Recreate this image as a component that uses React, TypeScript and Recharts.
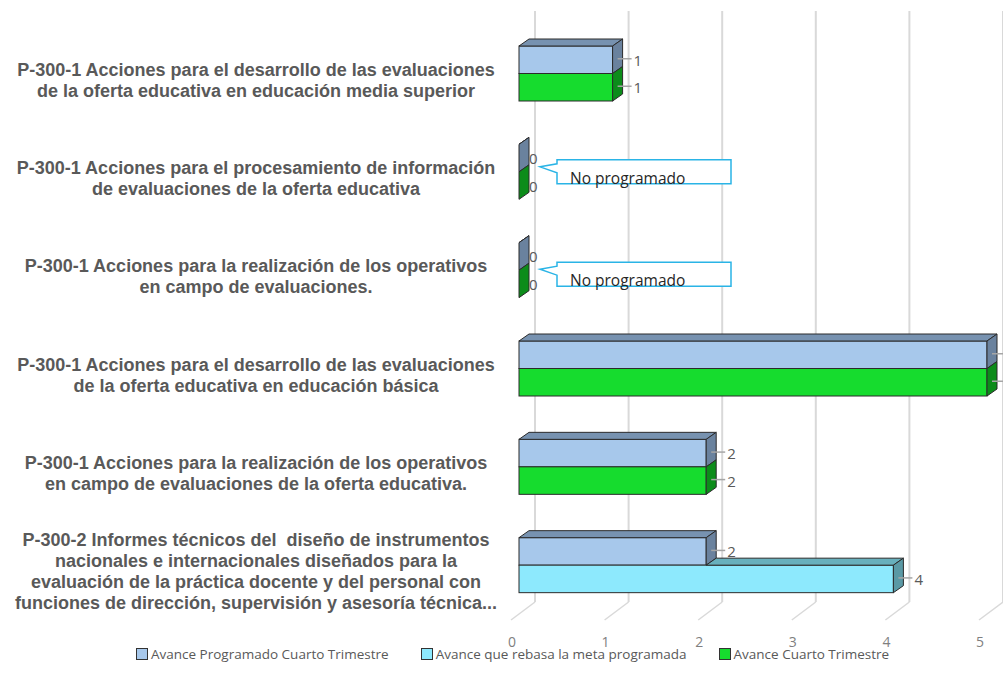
import React from 'react';
import {
  BarChart,
  Bar,
  XAxis,
  YAxis,
  CartesianGrid,
  Legend,
  LabelList,
} from 'recharts';

const categories = [
  'P-300-1 Acciones para el desarrollo de las evaluaciones\nde la oferta educativa en educación media superior',
  'P-300-1 Acciones para el procesamiento de información\nde evaluaciones de la oferta educativa',
  'P-300-1 Acciones para la realización de los operativos\nen campo de evaluaciones.',
  'P-300-1 Acciones para el desarrollo de las evaluaciones\nde la oferta educativa en educación básica',
  'P-300-1 Acciones para la realización de los operativos\nen campo de evaluaciones de la oferta educativa.',
  'P-300-2 Informes técnicos del  diseño de instrumentos\nnacionales e internacionales diseñados para la\nevaluación de la práctica docente y del personal con\nfunciones de dirección, supervisión y asesoría técnica...',
];
const programado = [1, 0, 0, 5, 2, 2];
const avanceCuarto = [1, 0, 0, 5, 2, null];
const rebasaMeta = [null, null, null, null, null, 4];
const notas = ['', 'No programado', 'No programado', '', '', ''];
const xTicks = [0, 1, 2, 3, 4, 5];

const legendItems = [
  { name: 'Avance Programado Cuarto Trimestre', color: '#a7c8eb' },
  { name: 'Avance que rebasa la meta programada', color: '#8de9fd' },
  { name: 'Avance Cuarto Trimestre', color: '#16dc2e' },
];

const data = categories.map((cat, i) => ({
  cat,
  programado: programado[i],
  segundo: avanceCuarto[i] ?? rebasaMeta[i],
  tipo: avanceCuarto[i] != null ? 'avance' : 'rebasa',
  nota: notas[i],
}));

const palette: Record<string, { front: string; top: string; side: string }> = {
  programado: { front: '#a7c8eb', top: '#7792b0', side: '#6a829e' },
  avance: { front: '#16dc2e', top: '#0f9e22', side: '#0c8c1a' },
  rebasa: { front: '#8de9fd', top: '#68b0bd', side: '#5a99a5' },
};

const DX = 10;
const DY = 7;
const EDGE = '#2b2b2b';

const Bar3D = (props: any) => {
  const { x, y, width, height, payload, dataKey } = props;
  const isProg = dataKey === 'programado';
  const c = palette[isProg ? 'programado' : payload.tipo];
  const w = Math.max(0, width);
  let top = null;
  if (isProg) {
    top = `${x},${y} ${x + DX},${y - DY} ${x + w + DX},${y - DY} ${x + w},${y}`;
  } else if (payload.programado < payload.segundo) {
    const xp = x + (w * payload.programado) / payload.segundo;
    top = `${xp},${y} ${xp + DX},${y - DY} ${x + w + DX},${y - DY} ${x + w},${y}`;
  }
  const side = `${x + w},${y} ${x + w + DX},${y - DY} ${x + w + DX},${y + height - DY} ${x + w},${y + height}`;
  return (
    <g>
      {w > 0 && <rect x={x} y={y} width={w} height={height} fill={c.front} stroke={EDGE} strokeWidth={1} />}
      {top && <polygon points={top} fill={c.top} stroke={EDGE} strokeWidth={1} />}
      <polygon points={side} fill={c.side} stroke={EDGE} strokeWidth={1} />
    </g>
  );
};

const ValueLabel = (props: any) => {
  const { x, y, width, height, value } = props;
  const cy = y + height / 2;
  if (!value) {
    return (
      <text x={x + 10} y={cy + 6} fontFamily="Open Sans" fontSize={15} fill="#595959">
        {value}
      </text>
    );
  }
  const end = x + width;
  return (
    <g>
      <line x1={end + DX / 2} y1={cy - 1} x2={end + 19} y2={cy - 1} stroke="#a6a6a6" strokeWidth={1.5} />
      <text x={end + 21} y={cy + 6} fontFamily="Open Sans" fontSize={15} fill="#595959">
        {value}
      </text>
    </g>
  );
};

const calloutShift = [0, -12, -8, 0, 0, 0];

const SegundoLabel = (props: any) => {
  const { x, y, index } = props;
  const nota = notas[index];
  return (
    <g>
      <ValueLabel {...props} />
      {nota && (() => {
        const t = y + calloutShift[index];
        const left = x + 38;
        const right = x + 212;
        return (
          <g>
            <path
              d={`M${left},${t} H${right} V${t + 24} H${left} V${t + 13} L${x + 21},${t + 7} L${left},${t + 4} Z`}
              fill="#ffffff"
              stroke="#2ab4e6"
              strokeWidth={1.5}
            />
            <text x={left + 13} y={t + 24} fontFamily="Open Sans" fontSize={15.5} fill="#262626">
              {nota}
            </text>
          </g>
        );
      })()}
    </g>
  );
};

const CategoryTick = (props: any) => {
  const { y, payload } = props;
  const lines: string[] = String(payload.value).split('\n');
  const first = y + 7 - ((lines.length - 1) * 21) / 2 + 6;
  return (
    <text
      x={254}
      y={first}
      textAnchor="middle"
      fontFamily="Liberation Sans, Arial, sans-serif"
      fontWeight="bold"
      fontSize={18}
      fill="#595959"
      style={{ whiteSpace: 'pre' }}
    >
      {lines.map((l, i) => (
        <tspan key={i} x={256} dy={i === 0 ? 0 : 21}>
          {l}
        </tspan>
      ))}
    </text>
  );
};

const ValueTick = (props: any) => {
  const { x, y, payload } = props;
  return (
    <text x={x - 7} y={y + 25} textAnchor="middle" fontFamily="Open Sans" fontSize={14} fill="#7f7f7f">
      {payload.value}
    </text>
  );
};

const GridLine = (props: any) => {
  const { x1, y1, y2 } = props;
  const gx = x1 + 16;
  return (
    <g>
      <line x1={gx} y1={y1 - 13} x2={gx} y2={y2 - 12} stroke="#d9d9d9" strokeWidth={2} />
      <line x1={gx} y1={y2 - 12} x2={gx - 24} y2={y2 + 6} stroke="#d9d9d9" strokeWidth={1.5} />
    </g>
  );
};

const LegendContent = () => (
  <div style={{ display: 'flex', height: 20, paddingLeft: 136, alignItems: 'center' }}>
    {legendItems.map((item) => (
      <div key={item.name} style={{ display: 'flex', alignItems: 'center', marginRight: 32 }}>
        <span
          style={{
            display: 'inline-block',
            width: 10,
            height: 10,
            background: item.color,
            border: '1px solid #333',
            marginRight: 3,
          }}
        />
        <span style={{ fontFamily: 'Open Sans', fontSize: 13.5, color: '#595959' }}>{item.name}</span>
      </div>
    ))}
  </div>
);

export default function App() {
  return (
    <div style={{ position: 'absolute', left: 0, top: 0, background: '#ffffff' }}>
      <BarChart
        width={1003}
        height={691}
        data={data}
        layout="vertical"
        margin={{ top: 24, right: 16, bottom: 0, left: 0 }}
        barSize={27.5}
        barGap={0}
      >
        <CartesianGrid horizontal={false} vertical={GridLine} />
        <XAxis
          type="number"
          domain={[0, 5]}
          ticks={xTicks}
          axisLine={false}
          tickLine={false}
          height={57}
          tick={<ValueTick />}
        />
        <YAxis
          type="category"
          dataKey="cat"
          width={519}
          axisLine={false}
          tickLine={false}
          interval={0}
          tick={<CategoryTick />}
        />
        <Legend
          verticalAlign="bottom"
          content={<LegendContent />}
          wrapperStyle={{ top: 644, left: 0 }}
        />
        <Bar dataKey="programado" isAnimationActive={false} shape={<Bar3D />}>
          <LabelList dataKey="programado" content={<ValueLabel />} />
        </Bar>
        <Bar dataKey="segundo" isAnimationActive={false} shape={<Bar3D />}>
          <LabelList dataKey="segundo" content={<SegundoLabel />} />
        </Bar>
      </BarChart>
    </div>
  );
}
